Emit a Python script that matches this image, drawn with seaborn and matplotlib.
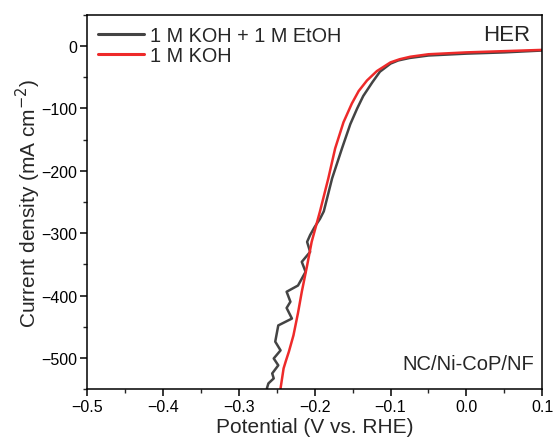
import numpy as np
import pandas as pd
import matplotlib
matplotlib.use("Agg")
import matplotlib.pyplot as plt
import seaborn as sns
from matplotlib.ticker import MultipleLocator

# Data
koh_etoh_v = [0.10, 0.05, 0.00, -0.05, -0.075, -0.090, -0.100, -0.114, -0.124, -0.136, -0.144,
              -0.153, -0.164, -0.177, -0.188, -0.193, -0.200, -0.206, -0.210, -0.206,
              -0.217, -0.212, -0.222, -0.237, -0.232, -0.237, -0.230, -0.248, -0.252, -0.245,
              -0.254, -0.248, -0.256, -0.254, -0.261, -0.263]
koh_etoh_j = [-7, -10, -12, -15, -19, -23, -28, -41, -58, -80, -100,
              -125, -164, -212, -265, -277, -290, -303, -314, -330,
              -346, -362, -384, -394, -410, -420, -437, -448, -474, -488,
              -501, -512, -525, -533, -541, -549]
koh_v = [0.10, 0.05, 0.00, -0.05, -0.074, -0.088, -0.100, -0.118, -0.131, -0.142, -0.151,
         -0.162, -0.173, -0.182, -0.193, -0.204, -0.210, -0.217, -0.222, -0.228, -0.234,
         -0.238, -0.241, -0.243, -0.245]
koh_j = [-6, -8, -10, -13, -17, -21, -26, -40, -55, -72, -92,
         -122, -164, -212, -265, -314, -352, -394, -428, -464, -490,
         -505, -517, -533, -549]

series_names = ["1 M KOH + 1 M EtOH", "1 M KOH"]
colors = ["#444444", "#ee2a2a"]

df = pd.concat([
    pd.DataFrame({"v": koh_etoh_v, "j": koh_etoh_j, "s": series_names[0]}),
    pd.DataFrame({"v": koh_v, "j": koh_j, "s": series_names[1]}),
])

sns.set_style("ticks")
plt.rcParams["font.family"] = ["Liberation Sans", "DejaVu Sans"]
plt.rcParams["axes.linewidth"] = 1.1

fig = plt.figure(figsize=(5.55, 4.39), dpi=100)
ax = fig.add_axes([0.157, 0.1116, 0.820, 0.852])

sns.lineplot(data=df, x="v", y="j", hue="s", palette=dict(zip(series_names, colors)),
             sort=False, estimator=None, linewidth=1.8, ax=ax)

ax.set_xlim(-0.5, 0.1)
ax.set_ylim(-550, 50)
ax.xaxis.set_minor_locator(MultipleLocator(0.05))
ax.yaxis.set_major_locator(MultipleLocator(100))
ax.yaxis.set_minor_locator(MultipleLocator(50))
ax.set_xticks([-0.5, -0.4, -0.3, -0.2, -0.1, 0.0, 0.1])
ax.set_xticklabels(["\u22120.5", "\u22120.4", "\u22120.3", "\u22120.2", "\u22120.1", "0.0", "0.1"])
ax.tick_params(axis="both", which="major", direction="out", length=5, width=1.1, labelsize=11.5,
               colors="black", pad=2)
ax.tick_params(axis="both", which="minor", direction="out", length=3, width=1.0)
for sp in ax.spines.values():
    sp.set_visible(True)
    sp.set_color("black")

ax.set_xlabel("Potential (V vs. RHE)", fontsize=15, labelpad=2)
ax.set_ylabel("Current density (mA cm$^{-2}$)", fontsize=15, labelpad=-1)

leg = ax.legend(loc="upper left", frameon=False, fontsize=14.3, handlelength=2.3,
                handletextpad=0.3, labelspacing=0.05, borderaxespad=0.1, borderpad=0.45)
for line in leg.get_lines():
    line.set_linewidth(2.2)

ax.text(0.974, 0.977, "HER", transform=ax.transAxes, ha="right", va="top", fontsize=16)
ax.text(0.982, 0.0535, "NC/Ni-CoP/NF", transform=ax.transAxes, ha="right", va="baseline", fontsize=14.5)

fig.savefig("out.png", dpi=100)
